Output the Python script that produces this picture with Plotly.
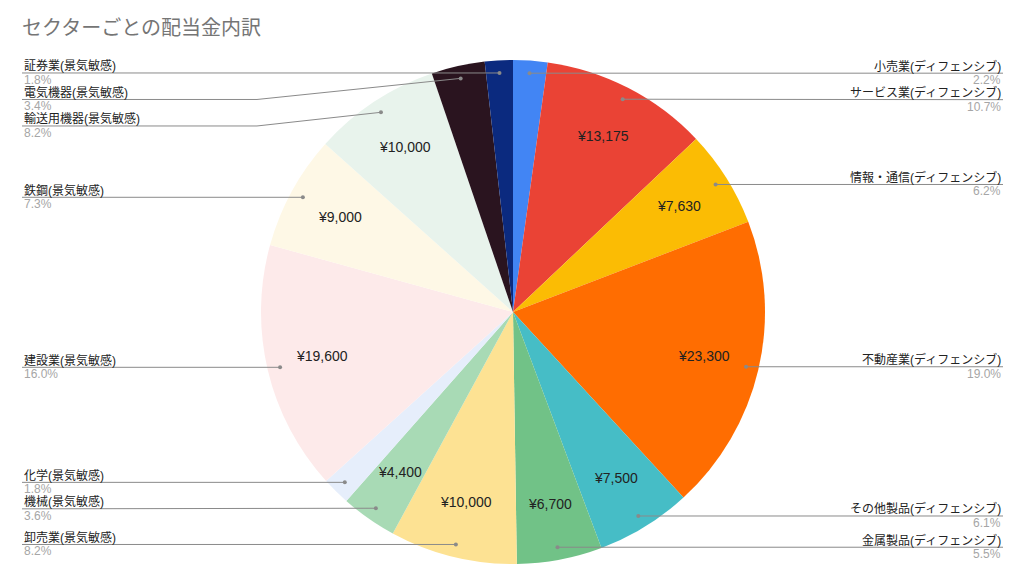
import math
import plotly.graph_objects as go

# セクター別配当金
sectors = ["小売業(ディフェンシブ)", "サービス業(ディフェンシブ)", "情報・通信(ディフェンシブ)",
           "不動産業(ディフェンシブ)", "その他製品(ディフェンシブ)", "金属製品(ディフェンシブ)",
           "卸売業(景気敏感)", "機械(景気敏感)", "化学(景気敏感)", "建設業(景気敏感)",
           "鉄鋼(景気敏感)", "輸送用機器(景気敏感)", "電気機器(景気敏感)", "証券業(景気敏感)"]
dividends = [2700, 13175, 7630, 23300, 7500, 6700, 10000, 4400, 2200, 19600, 9000, 10000, 4200, 2200]
colors = ["#4285F4", "#EA4335", "#FBBC04", "#FF6D01", "#46BDC6", "#71C287",
          "#FDE293", "#A8DAB5", "#E6EEFB", "#FDEAEA", "#FEF8E6", "#E8F3EC", "#2A141F", "#0B2A7F"]

W, H = 1024, 580
OFF = 8  # ページ余白の分
CX, CY, R = 513, 312, 252
FONT = "Liberation Sans, Arial, Noto Sans CJK JP, sans-serif"

def px(x):
    return (x - OFF) / W

def py(y):
    return 1 - (y - OFF) / H

total = sum(dividends)
fig = go.Figure(go.Pie(
    labels=sectors, values=dividends, sort=False, direction="clockwise", rotation=0,
    marker=dict(colors=colors, line=dict(width=0)),
    textinfo="none", hoverinfo="label+value+percent", showlegend=False,
    domain=dict(x=[px(CX - R), px(CX + R)], y=[py(CY + R), py(CY - R)]),
))

# スライス位置を計算
items = []
cum = 0
for name, v in zip(sectors, dividends):
    share = v / total
    th = 2 * math.pi * (cum + share / 2)
    cum += share
    s, c = math.sin(th), math.cos(th)
    items.append(dict(name=name, v=v, share=share, side="L" if th > math.pi else "R",
                      dot=(CX + 0.95 * R * s, CY - 0.95 * R * c),
                      txt=(CX + 0.78 * R * s, CY - 0.78 * R * c - 1)))

annotations = []
shapes = []

# 金額ラベル（小さいスライスは省略）
for it in items:
    if it["share"] >= 0.035:
        annotations.append(dict(x=px(it["txt"][0]), y=py(it["txt"][1]), xref="paper", yref="paper",
                                xanchor="center", yanchor="middle",
                                text=f"¥{it['v']:,}", showarrow=False,
                                font=dict(family=FONT, size=14, color="#222222")))

# 外側ラベルと引き出し線
for side in ["L", "R"]:
    group = sorted([it for it in items if it["side"] == side], key=lambda d: d["dot"][1])
    last = -1e9
    for it in group:
        ly = max(it["dot"][1], last + 26.5)
        last = ly
        dx, dy = it["dot"]
        if side == "L":
            x0, elbow, anchor = 22, CX - R - 4, "left"
        else:
            x0, elbow, anchor = 1003, CX + R + 4, "right"
        if abs(ly - dy) < 1:
            path = f"M {px(x0)} {py(ly)} L {px(dx)} {py(dy)}"
        else:
            path = f"M {px(x0)} {py(ly)} L {px(elbow)} {py(ly)} L {px(dx)} {py(dy)}"
        shapes.append(dict(type="path", xref="paper", yref="paper", path=path,
                           line=dict(color="#8a8a8a", width=1)))
        shapes.append(dict(type="circle", xref="paper", yref="paper",
                           x0=px(dx - 2), x1=px(dx + 2), y0=py(dy + 2), y1=py(dy - 2),
                           fillcolor="#8a8a8a", line=dict(width=0)))
        annotations.append(dict(x=px(x0), y=py(ly - 7), xref="paper", yref="paper", xanchor=anchor,
                                yanchor="middle", text=it["name"], showarrow=False,
                                font=dict(family=FONT, size=12, color="#222222")))
        annotations.append(dict(x=px(x0), y=py(ly + 7), xref="paper", yref="paper", xanchor=anchor,
                                yanchor="middle", text=f"{it['share'] * 100:.1f}%", showarrow=False,
                                font=dict(family=FONT, size=12, color="#a6a6a6")))

annotations.append(dict(x=px(20), y=py(28), xref="paper", yref="paper", xanchor="left", yanchor="middle",
                        text="セクターごとの配当金内訳", showarrow=False,
                        font=dict(family=FONT, size=20, color="#757575")))

fig.update_layout(width=W, height=H, margin=dict(l=0, r=0, t=0, b=0),
                  paper_bgcolor="white", plot_bgcolor="white",
                  annotations=annotations, shapes=shapes)
fig.write_html("out.html")
